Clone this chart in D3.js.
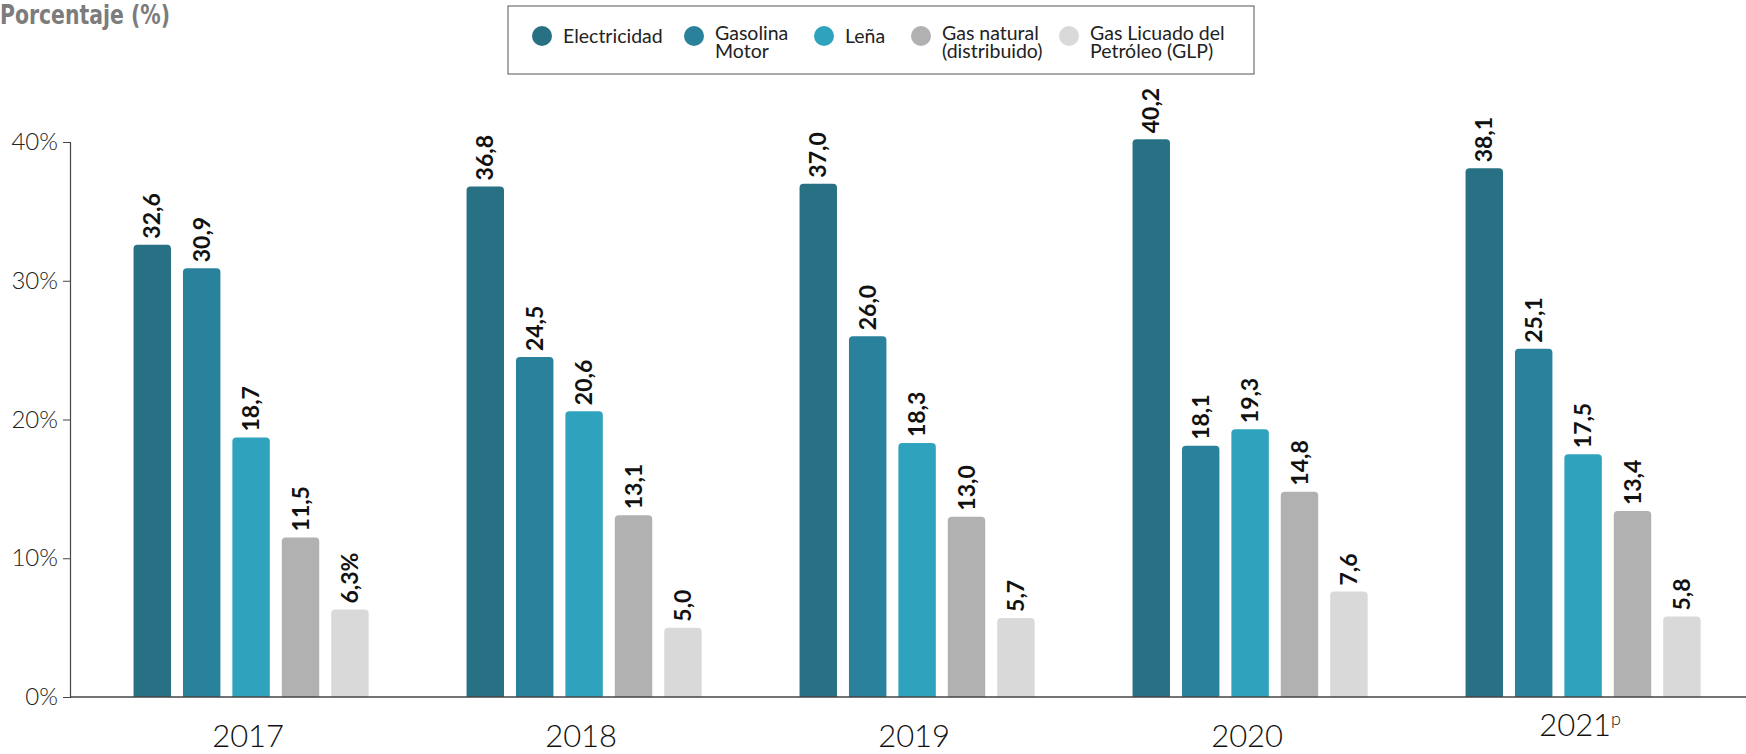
<!DOCTYPE html>
<html>
<head>
<meta charset="utf-8">
<script src="https://cdn.jsdelivr.net/npm/d3@7/dist/d3.min.js"></script>
<style>
  html, body { margin: 0; padding: 0; background: #ffffff; }
  svg { display: block; }
</style>
</head>
<body>
<svg id="chart" width="1746" height="754"></svg>
<script>
// Participación por fuente de energía (porcentaje), 2017–2021p
const years = ["2017", "2018", "2019", "2020", "2021"];
const yearSuffix = ["", "", "", "", "p"];
const sources = ["Electricidad", "Gasolina Motor", "Leña", "Gas natural (distribuido)", "Gas Licuado del Petróleo (GLP)"];
const legendLines = [["Electricidad"], ["Gasolina", "Motor"], ["Leña"], ["Gas natural", "(distribuido)"], ["Gas Licuado del", "Petróleo (GLP)"]];
const colors = ["#287184", "#2a819b", "#2fa2bd", "#b1b1b1", "#d9d9d9"];

const electricidad = [32.6, 36.8, 37.0, 40.2, 38.1];
const gasolina     = [30.9, 24.5, 26.0, 18.1, 25.1];
const lena         = [18.7, 20.6, 18.3, 19.3, 17.5];
const gasNatural   = [11.5, 13.1, 13.0, 14.8, 13.4];
const glp          = [6.3, 5.0, 5.7, 7.6, 5.8];
const seriesValues = [electricidad, gasolina, lena, gasNatural, glp];

const yTicks = [0, 10, 20, 30, 40];

const svg = d3.select("#chart");
const W = 1746, H = 754;
const axisX = 70, baseY = 697, topY = 142;

const x0 = d3.scaleBand().domain(years).range([84.6, 1749.6]).paddingInner(0.294).paddingOuter(0.147);
const x1 = d3.scaleBand().domain(d3.range(sources.length)).range([0, x0.bandwidth()]).paddingInner(0.242);
const y = d3.scaleLinear().domain([0, 40]).range([baseY, topY]);

const fmt = v => d3.format(".1f")(v).replace(".", ",");

// Title (condensed)
svg.append("text")
  .attr("x", 0).attr("y", 24)
  .attr("font-family", "'Liberation Sans Narrow', 'DejaVu Sans Condensed', sans-serif")
  .attr("font-weight", 700)
  .attr("font-size", 27)
  .attr("textLength", 170)
  .attr("lengthAdjust", "spacingAndGlyphs")
  .attr("fill", "#7c7c7c")
  .text("Porcentaje (%)");

// Legend
const legend = svg.append("g");
legend.append("rect")
  .attr("x", 508).attr("y", 6).attr("width", 746).attr("height", 68)
  .attr("fill", "none").attr("stroke", "#555").attr("stroke-width", 1);
const legendX = [563, 715, 845, 942, 1090];
sources.forEach((s, i) => {
  const g = legend.append("g");
  g.append("circle").attr("cx", legendX[i] - 21).attr("cy", 36).attr("r", 10).attr("fill", colors[i]);
  const lines = legendLines[i];
  lines.forEach((ln, j) => {
    g.append("text")
      .attr("font-family", "Lato, sans-serif")
      .attr("font-size", 19.5)
      .attr("fill", "#222")
      .attr("x", legendX[i])
      .attr("y", lines.length === 1 ? 43 : 40 + j * 18)
      .text(ln);
  });
});

// Y axis
const yAxis = svg.append("g")
  .attr("transform", `translate(${axisX},0)`)
  .call(d3.axisLeft(y).tickValues(yTicks).tickSize(7).tickFormat(d => d + "%"));
yAxis.select(".domain").attr("stroke", "#444").attr("stroke-width", 1.2);
yAxis.selectAll(".tick line").attr("stroke", "#444");
yAxis.selectAll(".tick text")
  .attr("font-family", "Lato, sans-serif")
  .attr("font-size", 24)
  .attr("font-weight", 300)
  .attr("fill", "#222")
  .attr("x", -12);

// Bars
const groups = svg.append("g").selectAll("g")
  .data(years)
  .join("g")
  .attr("transform", d => `translate(${x0(d)},0)`);

function topRounded(x, yTop, w, h, r) {
  r = Math.min(r, h / 2, w / 2);
  return `M${x},${yTop + h}V${yTop + r}Q${x},${yTop} ${x + r},${yTop}H${x + w - r}Q${x + w},${yTop} ${x + w},${yTop + r}V${yTop + h}Z`;
}

groups.each(function (yr, yi) {
  const g = d3.select(this);
  const vals = seriesValues.map(arr => arr[yi]);
  g.selectAll("path")
    .data(vals)
    .join("path")
    .attr("d", (v, si) => topRounded(x1(si), y(v), x1.bandwidth(), baseY - y(v), 4))
    .attr("fill", (v, si) => colors[si]);
  g.selectAll("text")
    .data(vals)
    .join("text")
    .attr("transform", (v, si) => `translate(${x1(si) + x1.bandwidth() / 2 + 8},${y(v) - 6}) rotate(-90)`)
    .attr("font-family", "Lato, sans-serif")
    .attr("font-weight", 700)
    .attr("font-size", 23)
    .attr("fill", "#111")
    .text((v, si) => fmt(v) + (yi === 0 && si === sources.length - 1 ? "%" : ""));
});

// X axis baseline and year labels
svg.append("line")
  .attr("x1", axisX).attr("x2", W)
  .attr("y1", baseY).attr("y2", baseY)
  .attr("stroke", "#444").attr("stroke-width", 1.5);

const xAxis = svg.append("g")
  .attr("transform", `translate(-3,${baseY})`)
  .call(d3.axisBottom(x0).tickSize(0).tickPadding(0));
xAxis.select(".domain").remove();
xAxis.selectAll(".tick text")
  .attr("font-family", "Lato, sans-serif")
  .attr("font-size", 31)
  .attr("font-weight", 300)
  .attr("fill", "#111")
  .attr("dy", null)
  .attr("y", (d, i) => yearSuffix[i] ? 39 : 50)
  .each(function (d, i) {
    if (yearSuffix[i]) {
      d3.select(this).append("tspan")
        .attr("font-size", 18)
        .attr("dy", -11)
        .text(yearSuffix[i]);
    }
  });
</script>
</body>
</html>
